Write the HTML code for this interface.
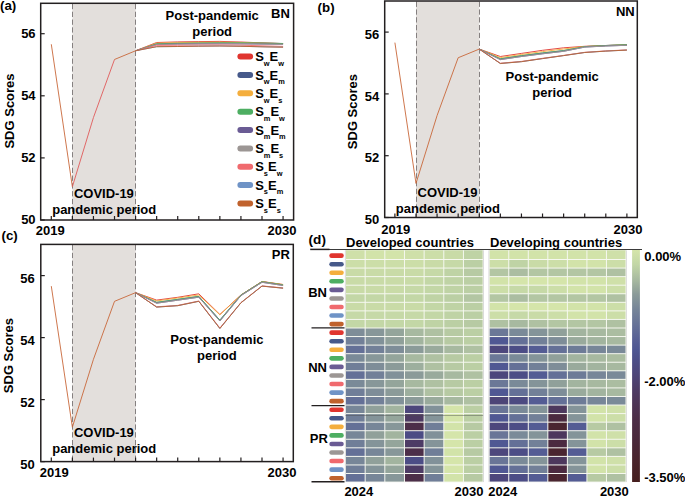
<!DOCTYPE html><html><head><meta charset="utf-8"><style>html,body{margin:0;padding:0;background:#fff;}svg{display:block;}</style></head><body><svg width="685" height="497" viewBox="0 0 685 497" font-family='"Liberation Sans", sans-serif' fill="#000">
<rect width="685" height="497" fill="#fff"/>
<rect x="72.37" y="3.30" width="63.21" height="216.70" fill="#e3dfdc"/>
<line x1="72.50" y1="3.90" x2="72.50" y2="220.00" stroke="#858080" stroke-width="1" stroke-dasharray="5.3,2.5"/>
<line x1="135.50" y1="3.90" x2="135.50" y2="220.00" stroke="#858080" stroke-width="1" stroke-dasharray="5.3,2.5"/>
<polyline points="135.58,50.78 156.65,42.50 177.72,41.90 198.79,41.60 219.86,41.40 240.93,42.00 262.00,42.90 283.07,43.60" fill="none" stroke="#e0352f" stroke-width="0.9" stroke-linejoin="miter"/>
<polyline points="135.58,50.78 156.65,43.80 177.72,43.30 198.79,43.00 219.86,42.80 240.93,42.80 262.00,43.10 283.07,43.50" fill="none" stroke="#46598a" stroke-width="0.9" stroke-linejoin="miter"/>
<polyline points="135.58,50.78 156.65,43.20 177.72,42.60 198.79,42.30 219.86,42.20 240.93,42.50 262.00,43.10 283.07,43.60" fill="none" stroke="#f4ae3d" stroke-width="0.9" stroke-linejoin="miter"/>
<polyline points="135.58,50.78 156.65,43.80 177.72,43.30 198.79,43.00 219.86,42.80 240.93,42.80 262.00,43.10 283.07,43.50" fill="none" stroke="#4dae62" stroke-width="0.9" stroke-linejoin="miter"/>
<polyline points="135.58,50.78 156.65,44.50 177.72,44.10 198.79,43.90 219.86,43.80 240.93,43.90 262.00,44.10 283.07,44.30" fill="none" stroke="#6a5b94" stroke-width="0.9" stroke-linejoin="miter"/>
<polyline points="135.58,50.78 156.65,44.50 177.72,44.10 198.79,43.90 219.86,43.80 240.93,43.90 262.00,44.10 283.07,44.30" fill="none" stroke="#9c9694" stroke-width="0.9" stroke-linejoin="miter"/>
<polyline points="135.58,50.78 156.65,45.40 177.72,45.30 198.79,45.10 219.86,45.00 240.93,45.20 262.00,45.80 283.07,46.40" fill="none" stroke="#f06a6e" stroke-width="0.9" stroke-linejoin="miter"/>
<polyline points="135.58,50.78 156.65,46.70 177.72,46.50 198.79,46.20 219.86,46.00 240.93,46.30 262.00,46.80 283.07,47.20" fill="none" stroke="#6f93c6" stroke-width="0.9" stroke-linejoin="miter"/>
<polyline points="135.58,50.78 156.65,46.70 177.72,46.50 198.79,46.20 219.86,46.00 240.93,46.30 262.00,46.80 283.07,47.20" fill="none" stroke="#c0622d" stroke-width="0.9" stroke-linejoin="miter"/>
<polyline points="51.30,44.26 72.37,186.78" fill="none" stroke="#c8683a" stroke-width="0.9"/>
<polyline points="72.37,186.78 93.44,117.54 114.51,59.47" fill="none" stroke="#e05a5a" stroke-width="0.9"/>
<polyline points="114.51,59.47 135.58,50.78" fill="none" stroke="#c8683a" stroke-width="0.9"/>
<rect x="40.70" y="3.30" width="252.90" height="216.70" fill="none" stroke="#231f20" stroke-width="1.5"/>
<line x1="51.30" y1="220.00" x2="51.30" y2="216.00" stroke="#231f20" stroke-width="1.2"/>
<line x1="72.37" y1="220.00" x2="72.37" y2="216.00" stroke="#231f20" stroke-width="1.2"/>
<line x1="93.44" y1="220.00" x2="93.44" y2="216.00" stroke="#231f20" stroke-width="1.2"/>
<line x1="114.51" y1="220.00" x2="114.51" y2="216.00" stroke="#231f20" stroke-width="1.2"/>
<line x1="135.58" y1="220.00" x2="135.58" y2="216.00" stroke="#231f20" stroke-width="1.2"/>
<line x1="156.65" y1="220.00" x2="156.65" y2="216.00" stroke="#231f20" stroke-width="1.2"/>
<line x1="177.72" y1="220.00" x2="177.72" y2="216.00" stroke="#231f20" stroke-width="1.2"/>
<line x1="198.79" y1="220.00" x2="198.79" y2="216.00" stroke="#231f20" stroke-width="1.2"/>
<line x1="219.86" y1="220.00" x2="219.86" y2="216.00" stroke="#231f20" stroke-width="1.2"/>
<line x1="240.93" y1="220.00" x2="240.93" y2="216.00" stroke="#231f20" stroke-width="1.2"/>
<line x1="262.00" y1="220.00" x2="262.00" y2="216.00" stroke="#231f20" stroke-width="1.2"/>
<line x1="283.07" y1="220.00" x2="283.07" y2="216.00" stroke="#231f20" stroke-width="1.2"/>
<line x1="40.70" y1="220.00" x2="44.70" y2="220.00" stroke="#231f20" stroke-width="1.2"/>
<text x="35.60" y="224.30" font-size="13" text-anchor="end" font-weight="bold" >50</text>
<line x1="40.70" y1="157.90" x2="44.70" y2="157.90" stroke="#231f20" stroke-width="1.2"/>
<text x="35.60" y="162.20" font-size="13" text-anchor="end" font-weight="bold" >52</text>
<line x1="40.70" y1="95.80" x2="44.70" y2="95.80" stroke="#231f20" stroke-width="1.2"/>
<text x="35.60" y="100.10" font-size="13" text-anchor="end" font-weight="bold" >54</text>
<line x1="40.70" y1="33.70" x2="44.70" y2="33.70" stroke="#231f20" stroke-width="1.2"/>
<text x="35.60" y="38.00" font-size="13" text-anchor="end" font-weight="bold" >56</text>
<text x="50.15" y="235.20" font-size="13" text-anchor="middle" font-weight="bold" >2019</text>
<text x="282.07" y="235.20" font-size="13" text-anchor="middle" font-weight="bold" >2030</text>
<text x="0" y="0" font-size="13" font-weight="bold" text-anchor="middle" transform="translate(14.00,111.00) rotate(-90)">SDG Scores</text>
<text x="103.88" y="197.50" font-size="13" text-anchor="middle" font-weight="bold" >COVID-19</text>
<text x="104.22" y="213.60" font-size="13" text-anchor="middle" font-weight="bold" >pandemic period</text>
<text x="289.80" y="17.90" font-size="13" text-anchor="end" font-weight="bold" >BN</text>
<rect x="415.99" y="1.00" width="63.27" height="216.50" fill="#e3dfdc"/>
<line x1="416.50" y1="1.60" x2="416.50" y2="217.50" stroke="#858080" stroke-width="1" stroke-dasharray="5.3,2.5"/>
<line x1="479.50" y1="1.60" x2="479.50" y2="217.50" stroke="#858080" stroke-width="1" stroke-dasharray="5.3,2.5"/>
<polyline points="479.26,49.09 500.35,56.50 521.44,53.40 542.53,50.30 563.62,47.80 584.71,46.30 605.80,45.50 626.89,44.90" fill="none" stroke="#e0352f" stroke-width="0.9" stroke-linejoin="miter"/>
<polyline points="479.26,49.09 500.35,58.80 521.44,55.70 542.53,53.00 563.62,50.60 584.71,46.60 605.80,45.50 626.89,44.70" fill="none" stroke="#46598a" stroke-width="0.9" stroke-linejoin="miter"/>
<polyline points="479.26,49.09 500.35,57.60 521.44,54.50 542.53,51.60 563.62,49.00 584.71,46.50 605.80,45.60 626.89,44.90" fill="none" stroke="#f4ae3d" stroke-width="0.9" stroke-linejoin="miter"/>
<polyline points="479.26,49.09 500.35,58.80 521.44,55.70 542.53,53.00 563.62,50.60 584.71,46.60 605.80,45.50 626.89,44.70" fill="none" stroke="#4dae62" stroke-width="0.9" stroke-linejoin="miter"/>
<polyline points="479.26,49.09 500.35,59.60 521.44,56.50 542.53,53.80 563.62,51.30 584.71,47.10 605.80,46.00 626.89,45.30" fill="none" stroke="#6a5b94" stroke-width="0.9" stroke-linejoin="miter"/>
<polyline points="479.26,49.09 500.35,59.60 521.44,56.50 542.53,53.80 563.62,51.30 584.71,47.10 605.80,46.00 626.89,45.30" fill="none" stroke="#9c9694" stroke-width="0.9" stroke-linejoin="miter"/>
<polyline points="479.26,49.09 500.35,63.20 521.44,61.40 542.53,58.30 563.62,55.40 584.71,52.30 605.80,50.90 626.89,49.90" fill="none" stroke="#f06a6e" stroke-width="0.9" stroke-linejoin="miter"/>
<polyline points="479.26,49.09 500.35,63.50 521.44,61.70 542.53,58.60 563.62,55.60 584.71,52.50 605.80,51.10 626.89,50.10" fill="none" stroke="#6f93c6" stroke-width="0.9" stroke-linejoin="miter"/>
<polyline points="479.26,49.09 500.35,63.50 521.44,61.70 542.53,58.60 563.62,55.60 584.71,52.50 605.80,51.10 626.89,50.10" fill="none" stroke="#c0622d" stroke-width="0.9" stroke-linejoin="miter"/>
<polyline points="394.90,42.61 415.99,183.44" fill="none" stroke="#c8683a" stroke-width="0.9"/>
<polyline points="415.99,183.44 437.08,115.53 458.17,57.75" fill="none" stroke="#c8683a" stroke-width="0.9"/>
<polyline points="458.17,57.75 479.26,49.09" fill="none" stroke="#c8683a" stroke-width="0.9"/>
<rect x="384.70" y="1.00" width="252.60" height="216.50" fill="none" stroke="#231f20" stroke-width="1.5"/>
<line x1="394.90" y1="217.50" x2="394.90" y2="213.50" stroke="#231f20" stroke-width="1.2"/>
<line x1="415.99" y1="217.50" x2="415.99" y2="213.50" stroke="#231f20" stroke-width="1.2"/>
<line x1="437.08" y1="217.50" x2="437.08" y2="213.50" stroke="#231f20" stroke-width="1.2"/>
<line x1="458.17" y1="217.50" x2="458.17" y2="213.50" stroke="#231f20" stroke-width="1.2"/>
<line x1="479.26" y1="217.50" x2="479.26" y2="213.50" stroke="#231f20" stroke-width="1.2"/>
<line x1="500.35" y1="217.50" x2="500.35" y2="213.50" stroke="#231f20" stroke-width="1.2"/>
<line x1="521.44" y1="217.50" x2="521.44" y2="213.50" stroke="#231f20" stroke-width="1.2"/>
<line x1="542.53" y1="217.50" x2="542.53" y2="213.50" stroke="#231f20" stroke-width="1.2"/>
<line x1="563.62" y1="217.50" x2="563.62" y2="213.50" stroke="#231f20" stroke-width="1.2"/>
<line x1="584.71" y1="217.50" x2="584.71" y2="213.50" stroke="#231f20" stroke-width="1.2"/>
<line x1="605.80" y1="217.50" x2="605.80" y2="213.50" stroke="#231f20" stroke-width="1.2"/>
<line x1="626.89" y1="217.50" x2="626.89" y2="213.50" stroke="#231f20" stroke-width="1.2"/>
<line x1="384.70" y1="217.50" x2="388.70" y2="217.50" stroke="#231f20" stroke-width="1.2"/>
<text x="379.30" y="224.20" font-size="13" text-anchor="end" font-weight="bold" >50</text>
<line x1="384.70" y1="155.70" x2="388.70" y2="155.70" stroke="#231f20" stroke-width="1.2"/>
<text x="379.30" y="162.40" font-size="13" text-anchor="end" font-weight="bold" >52</text>
<line x1="384.70" y1="93.90" x2="388.70" y2="93.90" stroke="#231f20" stroke-width="1.2"/>
<text x="379.30" y="100.60" font-size="13" text-anchor="end" font-weight="bold" >54</text>
<line x1="384.70" y1="32.10" x2="388.70" y2="32.10" stroke="#231f20" stroke-width="1.2"/>
<text x="379.30" y="38.80" font-size="13" text-anchor="end" font-weight="bold" >56</text>
<text x="395.65" y="233.60" font-size="13" text-anchor="middle" font-weight="bold" >2019</text>
<text x="627.99" y="233.60" font-size="13" text-anchor="middle" font-weight="bold" >2030</text>
<text x="0" y="0" font-size="13" font-weight="bold" text-anchor="middle" transform="translate(356.50,111.60) rotate(-90)">SDG Scores</text>
<text x="447.52" y="197.30" font-size="13" text-anchor="middle" font-weight="bold" >COVID-19</text>
<text x="447.88" y="213.30" font-size="13" text-anchor="middle" font-weight="bold" >pandemic period</text>
<text x="634.70" y="15.60" font-size="13" text-anchor="end" font-weight="bold" >NN</text>
<rect x="72.37" y="244.40" width="63.21" height="217.20" fill="#e3dfdc"/>
<line x1="72.50" y1="245.00" x2="72.50" y2="461.60" stroke="#858080" stroke-width="1" stroke-dasharray="5.3,2.5"/>
<line x1="135.50" y1="245.00" x2="135.50" y2="461.60" stroke="#858080" stroke-width="1" stroke-dasharray="5.3,2.5"/>
<polyline points="135.58,292.65 156.65,300.10 177.72,297.30 198.79,293.80 219.86,314.50 240.93,295.00 262.00,281.50 283.07,284.50" fill="none" stroke="#e0352f" stroke-width="0.9" stroke-linejoin="miter"/>
<polyline points="135.58,292.65 156.65,302.40 177.72,299.40 198.79,296.40 219.86,320.20 240.93,295.10 262.00,281.70 283.07,284.90" fill="none" stroke="#46598a" stroke-width="0.9" stroke-linejoin="miter"/>
<polyline points="135.58,292.65 156.65,301.00 177.72,298.00 198.79,295.00 219.86,314.80 240.93,295.10 262.00,281.60 283.07,284.60" fill="none" stroke="#f4ae3d" stroke-width="0.9" stroke-linejoin="miter"/>
<polyline points="135.58,292.65 156.65,302.40 177.72,299.40 198.79,296.40 219.86,320.20 240.93,295.10 262.00,281.70 283.07,284.90" fill="none" stroke="#4dae62" stroke-width="0.9" stroke-linejoin="miter"/>
<polyline points="135.58,292.65 156.65,303.20 177.72,300.20 198.79,297.20 219.86,321.00 240.93,295.60 262.00,282.30 283.07,285.50" fill="none" stroke="#6a5b94" stroke-width="0.9" stroke-linejoin="miter"/>
<polyline points="135.58,292.65 156.65,303.20 177.72,300.20 198.79,297.20 219.86,321.00 240.93,295.60 262.00,282.30 283.07,285.50" fill="none" stroke="#9c9694" stroke-width="0.9" stroke-linejoin="miter"/>
<polyline points="135.58,292.65 156.65,306.80 177.72,305.40 198.79,301.00 219.86,328.00 240.93,302.60 262.00,285.90 283.07,287.90" fill="none" stroke="#f06a6e" stroke-width="0.9" stroke-linejoin="miter"/>
<polyline points="135.58,292.65 156.65,307.10 177.72,305.70 198.79,301.30 219.86,328.50 240.93,302.80 262.00,286.10 283.07,288.20" fill="none" stroke="#6f93c6" stroke-width="0.9" stroke-linejoin="miter"/>
<polyline points="135.58,292.65 156.65,307.10 177.72,305.70 198.79,301.30 219.86,328.50 240.93,302.80 262.00,286.10 283.07,288.20" fill="none" stroke="#c0622d" stroke-width="0.9" stroke-linejoin="miter"/>
<polyline points="51.30,286.14 72.37,427.23" fill="none" stroke="#c8683a" stroke-width="0.9"/>
<polyline points="72.37,427.23 93.44,359.30 114.51,301.33" fill="none" stroke="#c8683a" stroke-width="0.9"/>
<polyline points="114.51,301.33 135.58,292.65" fill="none" stroke="#c8683a" stroke-width="0.9"/>
<rect x="40.80" y="244.40" width="252.50" height="217.20" fill="none" stroke="#231f20" stroke-width="1.5"/>
<line x1="51.30" y1="461.60" x2="51.30" y2="457.60" stroke="#231f20" stroke-width="1.2"/>
<line x1="72.37" y1="461.60" x2="72.37" y2="457.60" stroke="#231f20" stroke-width="1.2"/>
<line x1="93.44" y1="461.60" x2="93.44" y2="457.60" stroke="#231f20" stroke-width="1.2"/>
<line x1="114.51" y1="461.60" x2="114.51" y2="457.60" stroke="#231f20" stroke-width="1.2"/>
<line x1="135.58" y1="461.60" x2="135.58" y2="457.60" stroke="#231f20" stroke-width="1.2"/>
<line x1="156.65" y1="461.60" x2="156.65" y2="457.60" stroke="#231f20" stroke-width="1.2"/>
<line x1="177.72" y1="461.60" x2="177.72" y2="457.60" stroke="#231f20" stroke-width="1.2"/>
<line x1="198.79" y1="461.60" x2="198.79" y2="457.60" stroke="#231f20" stroke-width="1.2"/>
<line x1="219.86" y1="461.60" x2="219.86" y2="457.60" stroke="#231f20" stroke-width="1.2"/>
<line x1="240.93" y1="461.60" x2="240.93" y2="457.60" stroke="#231f20" stroke-width="1.2"/>
<line x1="262.00" y1="461.60" x2="262.00" y2="457.60" stroke="#231f20" stroke-width="1.2"/>
<line x1="283.07" y1="461.60" x2="283.07" y2="457.60" stroke="#231f20" stroke-width="1.2"/>
<line x1="40.80" y1="461.60" x2="44.80" y2="461.60" stroke="#231f20" stroke-width="1.2"/>
<text x="34.80" y="469.10" font-size="13" text-anchor="end" font-weight="bold" >50</text>
<line x1="40.80" y1="399.60" x2="44.80" y2="399.60" stroke="#231f20" stroke-width="1.2"/>
<text x="34.80" y="407.10" font-size="13" text-anchor="end" font-weight="bold" >52</text>
<line x1="40.80" y1="337.60" x2="44.80" y2="337.60" stroke="#231f20" stroke-width="1.2"/>
<text x="34.80" y="345.10" font-size="13" text-anchor="end" font-weight="bold" >54</text>
<line x1="40.80" y1="275.60" x2="44.80" y2="275.60" stroke="#231f20" stroke-width="1.2"/>
<text x="34.80" y="283.10" font-size="13" text-anchor="end" font-weight="bold" >56</text>
<text x="54.25" y="476.90" font-size="13" text-anchor="middle" font-weight="bold" >2019</text>
<text x="282.00" y="476.90" font-size="13" text-anchor="middle" font-weight="bold" >2030</text>
<text x="0" y="0" font-size="13" font-weight="bold" text-anchor="middle" transform="translate(12.90,355.60) rotate(-90)">SDG Scores</text>
<text x="103.88" y="437.00" font-size="13" text-anchor="middle" font-weight="bold" >COVID-19</text>
<text x="104.22" y="453.30" font-size="13" text-anchor="middle" font-weight="bold" >pandemic period</text>
<text x="289.80" y="259.00" font-size="13" text-anchor="end" font-weight="bold" >PR</text>
<text x="0.00" y="9.80" font-size="13.3" text-anchor="start" font-weight="bold" >(a)</text>
<text x="317.60" y="12.30" font-size="13.3" text-anchor="start" font-weight="bold" >(b)</text>
<text x="1.50" y="239.50" font-size="13.3" text-anchor="start" font-weight="bold" >(c)</text>
<text x="308.60" y="243.70" font-size="13.6" text-anchor="start" font-weight="bold" >(d)</text>
<text x="212.20" y="19.80" font-size="13" text-anchor="middle" font-weight="bold" >Post-pandemic</text>
<text x="212.20" y="36.10" font-size="13" text-anchor="middle" font-weight="bold" >period</text>
<text x="552.20" y="80.50" font-size="13" text-anchor="middle" font-weight="bold" >Post-pandemic</text>
<text x="552.20" y="96.80" font-size="13" text-anchor="middle" font-weight="bold" >period</text>
<text x="216.90" y="343.80" font-size="13" text-anchor="middle" font-weight="bold" >Post-pandemic</text>
<text x="216.90" y="360.10" font-size="13" text-anchor="middle" font-weight="bold" >period</text>
<rect x="237.4" y="53.60" width="15.7" height="6" rx="3" fill="#e0352f"/>
<text x="255.2" y="61.30" font-size="13" font-weight="bold">S<tspan font-size="7.4" dy="4.6">w</tspan><tspan font-size="13" dy="-4.6">E</tspan><tspan font-size="7.4" dy="4.6">w</tspan></text>
<rect x="237.4" y="71.96" width="15.7" height="6" rx="3" fill="#46598a"/>
<text x="255.2" y="79.66" font-size="13" font-weight="bold">S<tspan font-size="7.4" dy="4.6">w</tspan><tspan font-size="13" dy="-4.6">E</tspan><tspan font-size="7.4" dy="4.6">m</tspan></text>
<rect x="237.4" y="90.32" width="15.7" height="6" rx="3" fill="#f4ae3d"/>
<text x="255.2" y="98.02" font-size="13" font-weight="bold">S<tspan font-size="7.4" dy="4.6">w</tspan><tspan font-size="13" dy="-4.6">E</tspan><tspan font-size="7.4" dy="4.6">s</tspan></text>
<rect x="237.4" y="108.68" width="15.7" height="6" rx="3" fill="#4dae62"/>
<text x="255.2" y="116.38" font-size="13" font-weight="bold">S<tspan font-size="7.4" dy="4.6">m</tspan><tspan font-size="13" dy="-4.6">E</tspan><tspan font-size="7.4" dy="4.6">w</tspan></text>
<rect x="237.4" y="127.04" width="15.7" height="6" rx="3" fill="#6a5b94"/>
<text x="255.2" y="134.74" font-size="13" font-weight="bold">S<tspan font-size="7.4" dy="4.6">m</tspan><tspan font-size="13" dy="-4.6">E</tspan><tspan font-size="7.4" dy="4.6">m</tspan></text>
<rect x="237.4" y="145.40" width="15.7" height="6" rx="3" fill="#9c9694"/>
<text x="255.2" y="153.10" font-size="13" font-weight="bold">S<tspan font-size="7.4" dy="4.6">m</tspan><tspan font-size="13" dy="-4.6">E</tspan><tspan font-size="7.4" dy="4.6">s</tspan></text>
<rect x="237.4" y="163.76" width="15.7" height="6" rx="3" fill="#f06a6e"/>
<text x="255.2" y="171.46" font-size="13" font-weight="bold">S<tspan font-size="7.4" dy="4.6">s</tspan><tspan font-size="13" dy="-4.6">E</tspan><tspan font-size="7.4" dy="4.6">w</tspan></text>
<rect x="237.4" y="182.12" width="15.7" height="6" rx="3" fill="#6f93c6"/>
<text x="255.2" y="189.82" font-size="13" font-weight="bold">S<tspan font-size="7.4" dy="4.6">s</tspan><tspan font-size="13" dy="-4.6">E</tspan><tspan font-size="7.4" dy="4.6">m</tspan></text>
<rect x="237.4" y="200.48" width="15.7" height="6" rx="3" fill="#c0622d"/>
<text x="255.2" y="208.18" font-size="13" font-weight="bold">S<tspan font-size="7.4" dy="4.6">s</tspan><tspan font-size="13" dy="-4.6">E</tspan><tspan font-size="7.4" dy="4.6">s</tspan></text>
<rect x="344.90" y="250.3" width="138.80" height="231.77" fill="#c8c8c8"/>
<rect x="345.50" y="250.3" width="137.60" height="231.77" fill="#f6f8f0"/>
<rect x="346.00" y="250.30" width="18.66" height="8.71" fill="#cfe0a9"/>
<rect x="365.66" y="250.30" width="18.66" height="8.71" fill="#d2e3a9"/>
<rect x="385.31" y="250.30" width="18.66" height="8.71" fill="#d3e4aa"/>
<rect x="404.97" y="250.30" width="18.66" height="8.71" fill="#cfe0a9"/>
<rect x="424.63" y="250.30" width="18.66" height="8.71" fill="#ccdea8"/>
<rect x="444.29" y="250.30" width="18.66" height="8.71" fill="#c9dba7"/>
<rect x="463.94" y="250.30" width="18.66" height="8.71" fill="#bfd3a5"/>
<rect x="346.00" y="260.01" width="18.66" height="7.56" fill="#ccdea8"/>
<rect x="365.66" y="260.01" width="18.66" height="7.56" fill="#ccdea8"/>
<rect x="385.31" y="260.01" width="18.66" height="7.56" fill="#ccdea8"/>
<rect x="404.97" y="260.01" width="18.66" height="7.56" fill="#ccdea8"/>
<rect x="424.63" y="260.01" width="18.66" height="7.56" fill="#c9dba7"/>
<rect x="444.29" y="260.01" width="18.66" height="7.56" fill="#c6d9a7"/>
<rect x="463.94" y="260.01" width="18.66" height="7.56" fill="#bbcfa4"/>
<rect x="346.00" y="268.57" width="18.66" height="7.56" fill="#c9dba7"/>
<rect x="365.66" y="268.57" width="18.66" height="7.56" fill="#c9dba7"/>
<rect x="385.31" y="268.57" width="18.66" height="7.56" fill="#c9dba7"/>
<rect x="404.97" y="268.57" width="18.66" height="7.56" fill="#c9dba7"/>
<rect x="424.63" y="268.57" width="18.66" height="7.56" fill="#c6d9a7"/>
<rect x="444.29" y="268.57" width="18.66" height="7.56" fill="#bfd3a5"/>
<rect x="463.94" y="268.57" width="18.66" height="7.56" fill="#b7caa3"/>
<rect x="346.00" y="277.13" width="18.66" height="7.56" fill="#c9dba7"/>
<rect x="365.66" y="277.13" width="18.66" height="7.56" fill="#c9dba7"/>
<rect x="385.31" y="277.13" width="18.66" height="7.56" fill="#c9dba7"/>
<rect x="404.97" y="277.13" width="18.66" height="7.56" fill="#c9dba7"/>
<rect x="424.63" y="277.13" width="18.66" height="7.56" fill="#c3d7a6"/>
<rect x="444.29" y="277.13" width="18.66" height="7.56" fill="#bfd3a5"/>
<rect x="463.94" y="277.13" width="18.66" height="7.56" fill="#bbcfa4"/>
<rect x="346.00" y="285.69" width="18.66" height="7.56" fill="#c9dba7"/>
<rect x="365.66" y="285.69" width="18.66" height="7.56" fill="#c9dba7"/>
<rect x="385.31" y="285.69" width="18.66" height="7.56" fill="#c9dba7"/>
<rect x="404.97" y="285.69" width="18.66" height="7.56" fill="#c6d9a7"/>
<rect x="424.63" y="285.69" width="18.66" height="7.56" fill="#c3d7a6"/>
<rect x="444.29" y="285.69" width="18.66" height="7.56" fill="#bfd3a5"/>
<rect x="463.94" y="285.69" width="18.66" height="7.56" fill="#bbcfa4"/>
<rect x="346.00" y="294.25" width="18.66" height="7.56" fill="#c3d7a6"/>
<rect x="365.66" y="294.25" width="18.66" height="7.56" fill="#c3d7a6"/>
<rect x="385.31" y="294.25" width="18.66" height="7.56" fill="#c3d7a6"/>
<rect x="404.97" y="294.25" width="18.66" height="7.56" fill="#c3d7a6"/>
<rect x="424.63" y="294.25" width="18.66" height="7.56" fill="#bfd3a5"/>
<rect x="444.29" y="294.25" width="18.66" height="7.56" fill="#bbcfa4"/>
<rect x="463.94" y="294.25" width="18.66" height="7.56" fill="#b3c6a3"/>
<rect x="346.00" y="302.81" width="18.66" height="7.56" fill="#c9dba7"/>
<rect x="365.66" y="302.81" width="18.66" height="7.56" fill="#c9dba7"/>
<rect x="385.31" y="302.81" width="18.66" height="7.56" fill="#c9dba7"/>
<rect x="404.97" y="302.81" width="18.66" height="7.56" fill="#c9dba7"/>
<rect x="424.63" y="302.81" width="18.66" height="7.56" fill="#c3d7a6"/>
<rect x="444.29" y="302.81" width="18.66" height="7.56" fill="#bfd3a5"/>
<rect x="463.94" y="302.81" width="18.66" height="7.56" fill="#bbcfa4"/>
<rect x="346.00" y="311.37" width="18.66" height="7.56" fill="#c6d9a7"/>
<rect x="365.66" y="311.37" width="18.66" height="7.56" fill="#c6d9a7"/>
<rect x="385.31" y="311.37" width="18.66" height="7.56" fill="#c6d9a7"/>
<rect x="404.97" y="311.37" width="18.66" height="7.56" fill="#c6d9a7"/>
<rect x="424.63" y="311.37" width="18.66" height="7.56" fill="#c3d7a6"/>
<rect x="444.29" y="311.37" width="18.66" height="7.56" fill="#bfd3a5"/>
<rect x="463.94" y="311.37" width="18.66" height="7.56" fill="#bbcfa4"/>
<rect x="346.00" y="319.93" width="18.66" height="7.56" fill="#c3d7a6"/>
<rect x="365.66" y="319.93" width="18.66" height="7.56" fill="#c3d7a6"/>
<rect x="385.31" y="319.93" width="18.66" height="7.56" fill="#c3d7a6"/>
<rect x="404.97" y="319.93" width="18.66" height="7.56" fill="#c3d7a6"/>
<rect x="424.63" y="319.93" width="18.66" height="7.56" fill="#bfd3a5"/>
<rect x="444.29" y="319.93" width="18.66" height="7.56" fill="#bbcfa4"/>
<rect x="463.94" y="319.93" width="18.66" height="7.56" fill="#b7caa3"/>
<rect x="346.00" y="328.49" width="18.66" height="7.56" fill="#7e8d98"/>
<rect x="365.66" y="328.49" width="18.66" height="7.56" fill="#879799"/>
<rect x="385.31" y="328.49" width="18.66" height="7.56" fill="#94a59b"/>
<rect x="404.97" y="328.49" width="18.66" height="7.56" fill="#a7b9a0"/>
<rect x="424.63" y="328.49" width="18.66" height="7.56" fill="#afc1a2"/>
<rect x="444.29" y="328.49" width="18.66" height="7.56" fill="#b7caa3"/>
<rect x="463.94" y="328.49" width="18.66" height="7.56" fill="#bbcfa4"/>
<rect x="346.00" y="337.05" width="18.66" height="7.56" fill="#728098"/>
<rect x="365.66" y="337.05" width="18.66" height="7.56" fill="#819199"/>
<rect x="385.31" y="337.05" width="18.66" height="7.56" fill="#90a09a"/>
<rect x="404.97" y="337.05" width="18.66" height="7.56" fill="#a2b49f"/>
<rect x="424.63" y="337.05" width="18.66" height="7.56" fill="#afc1a2"/>
<rect x="444.29" y="337.05" width="18.66" height="7.56" fill="#b7caa3"/>
<rect x="463.94" y="337.05" width="18.66" height="7.56" fill="#bbcfa4"/>
<rect x="346.00" y="345.61" width="18.66" height="7.56" fill="#647097"/>
<rect x="365.66" y="345.61" width="18.66" height="7.56" fill="#728098"/>
<rect x="385.31" y="345.61" width="18.66" height="7.56" fill="#7e8d98"/>
<rect x="404.97" y="345.61" width="18.66" height="7.56" fill="#8b9b99"/>
<rect x="424.63" y="345.61" width="18.66" height="7.56" fill="#99aa9c"/>
<rect x="444.29" y="345.61" width="18.66" height="7.56" fill="#a7b9a0"/>
<rect x="463.94" y="345.61" width="18.66" height="7.56" fill="#afc1a2"/>
<rect x="346.00" y="354.17" width="18.66" height="7.56" fill="#7a8a98"/>
<rect x="365.66" y="354.17" width="18.66" height="7.56" fill="#879799"/>
<rect x="385.31" y="354.17" width="18.66" height="7.56" fill="#94a59b"/>
<rect x="404.97" y="354.17" width="18.66" height="7.56" fill="#a7b9a0"/>
<rect x="424.63" y="354.17" width="18.66" height="7.56" fill="#afc1a2"/>
<rect x="444.29" y="354.17" width="18.66" height="7.56" fill="#b7caa3"/>
<rect x="463.94" y="354.17" width="18.66" height="7.56" fill="#bbcfa4"/>
<rect x="346.00" y="362.73" width="18.66" height="7.56" fill="#707e98"/>
<rect x="365.66" y="362.73" width="18.66" height="7.56" fill="#7e8d98"/>
<rect x="385.31" y="362.73" width="18.66" height="7.56" fill="#8b9b99"/>
<rect x="404.97" y="362.73" width="18.66" height="7.56" fill="#9daf9e"/>
<rect x="424.63" y="362.73" width="18.66" height="7.56" fill="#afc1a2"/>
<rect x="444.29" y="362.73" width="18.66" height="7.56" fill="#b7caa3"/>
<rect x="463.94" y="362.73" width="18.66" height="7.56" fill="#bbcfa4"/>
<rect x="346.00" y="371.29" width="18.66" height="7.56" fill="#647097"/>
<rect x="365.66" y="371.29" width="18.66" height="7.56" fill="#728098"/>
<rect x="385.31" y="371.29" width="18.66" height="7.56" fill="#819199"/>
<rect x="404.97" y="371.29" width="18.66" height="7.56" fill="#8b9b99"/>
<rect x="424.63" y="371.29" width="18.66" height="7.56" fill="#99aa9c"/>
<rect x="444.29" y="371.29" width="18.66" height="7.56" fill="#a7b9a0"/>
<rect x="463.94" y="371.29" width="18.66" height="7.56" fill="#afc1a2"/>
<rect x="346.00" y="379.85" width="18.66" height="7.56" fill="#7a8a98"/>
<rect x="365.66" y="379.85" width="18.66" height="7.56" fill="#879799"/>
<rect x="385.31" y="379.85" width="18.66" height="7.56" fill="#94a59b"/>
<rect x="404.97" y="379.85" width="18.66" height="7.56" fill="#a7b9a0"/>
<rect x="424.63" y="379.85" width="18.66" height="7.56" fill="#afc1a2"/>
<rect x="444.29" y="379.85" width="18.66" height="7.56" fill="#b7caa3"/>
<rect x="463.94" y="379.85" width="18.66" height="7.56" fill="#bbcfa4"/>
<rect x="346.00" y="388.41" width="18.66" height="7.56" fill="#707e98"/>
<rect x="365.66" y="388.41" width="18.66" height="7.56" fill="#7e8d98"/>
<rect x="385.31" y="388.41" width="18.66" height="7.56" fill="#8b9b99"/>
<rect x="404.97" y="388.41" width="18.66" height="7.56" fill="#9daf9e"/>
<rect x="424.63" y="388.41" width="18.66" height="7.56" fill="#afc1a2"/>
<rect x="444.29" y="388.41" width="18.66" height="7.56" fill="#b7caa3"/>
<rect x="463.94" y="388.41" width="18.66" height="7.56" fill="#bbcfa4"/>
<rect x="346.00" y="396.97" width="18.66" height="7.56" fill="#647097"/>
<rect x="365.66" y="396.97" width="18.66" height="7.56" fill="#728098"/>
<rect x="385.31" y="396.97" width="18.66" height="7.56" fill="#819199"/>
<rect x="404.97" y="396.97" width="18.66" height="7.56" fill="#8b9b99"/>
<rect x="424.63" y="396.97" width="18.66" height="7.56" fill="#99aa9c"/>
<rect x="444.29" y="396.97" width="18.66" height="7.56" fill="#a7b9a0"/>
<rect x="463.94" y="396.97" width="18.66" height="7.56" fill="#afc1a2"/>
<rect x="346.00" y="405.53" width="18.66" height="7.56" fill="#778698"/>
<rect x="365.66" y="405.53" width="18.66" height="7.56" fill="#90a09a"/>
<rect x="385.31" y="405.53" width="18.66" height="7.56" fill="#a2b49f"/>
<rect x="404.97" y="405.53" width="18.66" height="7.56" fill="#4d477c"/>
<rect x="424.63" y="405.53" width="18.66" height="7.56" fill="#819199"/>
<rect x="444.29" y="405.53" width="18.66" height="7.56" fill="#d5e5aa"/>
<rect x="463.94" y="405.53" width="18.66" height="7.56" fill="#bbcfa4"/>
<rect x="346.00" y="414.09" width="18.66" height="7.56" fill="#707e98"/>
<rect x="365.66" y="414.09" width="18.66" height="7.56" fill="#849499"/>
<rect x="385.31" y="414.09" width="18.66" height="7.56" fill="#94a59b"/>
<rect x="404.97" y="414.09" width="18.66" height="7.56" fill="#4d3a62"/>
<rect x="424.63" y="414.09" width="18.66" height="7.56" fill="#849499"/>
<rect x="444.29" y="414.09" width="18.66" height="7.56" fill="#d5e5aa"/>
<rect x="463.94" y="414.09" width="18.66" height="7.56" fill="#bbcfa4"/>
<rect x="346.00" y="422.65" width="18.66" height="7.56" fill="#647097"/>
<rect x="365.66" y="422.65" width="18.66" height="7.56" fill="#778698"/>
<rect x="385.31" y="422.65" width="18.66" height="7.56" fill="#879799"/>
<rect x="404.97" y="422.65" width="18.66" height="7.56" fill="#4c2e49"/>
<rect x="424.63" y="422.65" width="18.66" height="7.56" fill="#707e98"/>
<rect x="444.29" y="422.65" width="18.66" height="7.56" fill="#d2e3a9"/>
<rect x="463.94" y="422.65" width="18.66" height="7.56" fill="#b7caa3"/>
<rect x="346.00" y="431.21" width="18.66" height="7.56" fill="#778698"/>
<rect x="365.66" y="431.21" width="18.66" height="7.56" fill="#90a09a"/>
<rect x="385.31" y="431.21" width="18.66" height="7.56" fill="#a2b49f"/>
<rect x="404.97" y="431.21" width="18.66" height="7.56" fill="#4c4c84"/>
<rect x="424.63" y="431.21" width="18.66" height="7.56" fill="#819199"/>
<rect x="444.29" y="431.21" width="18.66" height="7.56" fill="#d5e5aa"/>
<rect x="463.94" y="431.21" width="18.66" height="7.56" fill="#bbcfa4"/>
<rect x="346.00" y="439.77" width="18.66" height="7.56" fill="#707e98"/>
<rect x="365.66" y="439.77" width="18.66" height="7.56" fill="#849499"/>
<rect x="385.31" y="439.77" width="18.66" height="7.56" fill="#94a59b"/>
<rect x="404.97" y="439.77" width="18.66" height="7.56" fill="#4d3b65"/>
<rect x="424.63" y="439.77" width="18.66" height="7.56" fill="#849499"/>
<rect x="444.29" y="439.77" width="18.66" height="7.56" fill="#d5e5aa"/>
<rect x="463.94" y="439.77" width="18.66" height="7.56" fill="#bbcfa4"/>
<rect x="346.00" y="448.33" width="18.66" height="7.56" fill="#647097"/>
<rect x="365.66" y="448.33" width="18.66" height="7.56" fill="#778698"/>
<rect x="385.31" y="448.33" width="18.66" height="7.56" fill="#879799"/>
<rect x="404.97" y="448.33" width="18.66" height="7.56" fill="#4c2e49"/>
<rect x="424.63" y="448.33" width="18.66" height="7.56" fill="#707e98"/>
<rect x="444.29" y="448.33" width="18.66" height="7.56" fill="#d2e3a9"/>
<rect x="463.94" y="448.33" width="18.66" height="7.56" fill="#b7caa3"/>
<rect x="346.00" y="456.89" width="18.66" height="7.56" fill="#778698"/>
<rect x="365.66" y="456.89" width="18.66" height="7.56" fill="#90a09a"/>
<rect x="385.31" y="456.89" width="18.66" height="7.56" fill="#a2b49f"/>
<rect x="404.97" y="456.89" width="18.66" height="7.56" fill="#4c4d86"/>
<rect x="424.63" y="456.89" width="18.66" height="7.56" fill="#819199"/>
<rect x="444.29" y="456.89" width="18.66" height="7.56" fill="#d5e5aa"/>
<rect x="463.94" y="456.89" width="18.66" height="7.56" fill="#bbcfa4"/>
<rect x="346.00" y="465.45" width="18.66" height="7.56" fill="#707e98"/>
<rect x="365.66" y="465.45" width="18.66" height="7.56" fill="#849499"/>
<rect x="385.31" y="465.45" width="18.66" height="7.56" fill="#94a59b"/>
<rect x="404.97" y="465.45" width="18.66" height="7.56" fill="#4d3b65"/>
<rect x="424.63" y="465.45" width="18.66" height="7.56" fill="#849499"/>
<rect x="444.29" y="465.45" width="18.66" height="7.56" fill="#d5e5aa"/>
<rect x="463.94" y="465.45" width="18.66" height="7.56" fill="#bbcfa4"/>
<rect x="346.00" y="474.01" width="18.66" height="7.56" fill="#647097"/>
<rect x="365.66" y="474.01" width="18.66" height="7.56" fill="#778698"/>
<rect x="385.31" y="474.01" width="18.66" height="7.56" fill="#879799"/>
<rect x="404.97" y="474.01" width="18.66" height="7.56" fill="#4c2e49"/>
<rect x="424.63" y="474.01" width="18.66" height="7.56" fill="#707e98"/>
<rect x="444.29" y="474.01" width="18.66" height="7.56" fill="#d2e3a9"/>
<rect x="463.94" y="474.01" width="18.66" height="7.56" fill="#b7caa3"/>
<rect x="488.60" y="250.3" width="138.00" height="231.77" fill="#c8c8c8"/>
<rect x="489.20" y="250.3" width="136.80" height="231.77" fill="#f6f8f0"/>
<rect x="489.70" y="250.30" width="18.54" height="8.71" fill="#d2e3a9"/>
<rect x="509.24" y="250.30" width="18.54" height="8.71" fill="#d2e3a9"/>
<rect x="528.79" y="250.30" width="18.54" height="8.71" fill="#d2e3a9"/>
<rect x="548.33" y="250.30" width="18.54" height="8.71" fill="#d2e3a9"/>
<rect x="567.87" y="250.30" width="18.54" height="8.71" fill="#d2e3a9"/>
<rect x="587.41" y="250.30" width="18.54" height="8.71" fill="#d2e3a9"/>
<rect x="606.96" y="250.30" width="18.54" height="8.71" fill="#cfe0a9"/>
<rect x="489.70" y="260.01" width="18.54" height="7.56" fill="#ccdea8"/>
<rect x="509.24" y="260.01" width="18.54" height="7.56" fill="#bfd3a5"/>
<rect x="528.79" y="260.01" width="18.54" height="7.56" fill="#c9dba7"/>
<rect x="548.33" y="260.01" width="18.54" height="7.56" fill="#ccdea8"/>
<rect x="567.87" y="260.01" width="18.54" height="7.56" fill="#d2e3a9"/>
<rect x="587.41" y="260.01" width="18.54" height="7.56" fill="#d2e3a9"/>
<rect x="606.96" y="260.01" width="18.54" height="7.56" fill="#ccdea8"/>
<rect x="489.70" y="268.57" width="18.54" height="7.56" fill="#b3c6a3"/>
<rect x="509.24" y="268.57" width="18.54" height="7.56" fill="#abbda1"/>
<rect x="528.79" y="268.57" width="18.54" height="7.56" fill="#b3c6a3"/>
<rect x="548.33" y="268.57" width="18.54" height="7.56" fill="#b3c6a3"/>
<rect x="567.87" y="268.57" width="18.54" height="7.56" fill="#b3c6a3"/>
<rect x="587.41" y="268.57" width="18.54" height="7.56" fill="#b3c6a3"/>
<rect x="606.96" y="268.57" width="18.54" height="7.56" fill="#afc1a2"/>
<rect x="489.70" y="277.13" width="18.54" height="7.56" fill="#d2e3a9"/>
<rect x="509.24" y="277.13" width="18.54" height="7.56" fill="#d5e5aa"/>
<rect x="528.79" y="277.13" width="18.54" height="7.56" fill="#d5e5aa"/>
<rect x="548.33" y="277.13" width="18.54" height="7.56" fill="#d5e5aa"/>
<rect x="567.87" y="277.13" width="18.54" height="7.56" fill="#d2e3a9"/>
<rect x="587.41" y="277.13" width="18.54" height="7.56" fill="#d2e3a9"/>
<rect x="606.96" y="277.13" width="18.54" height="7.56" fill="#cfe0a9"/>
<rect x="489.70" y="285.69" width="18.54" height="7.56" fill="#ccdea8"/>
<rect x="509.24" y="285.69" width="18.54" height="7.56" fill="#c6d9a7"/>
<rect x="528.79" y="285.69" width="18.54" height="7.56" fill="#c6d9a7"/>
<rect x="548.33" y="285.69" width="18.54" height="7.56" fill="#ccdea8"/>
<rect x="567.87" y="285.69" width="18.54" height="7.56" fill="#d2e3a9"/>
<rect x="587.41" y="285.69" width="18.54" height="7.56" fill="#d2e3a9"/>
<rect x="606.96" y="285.69" width="18.54" height="7.56" fill="#ccdea8"/>
<rect x="489.70" y="294.25" width="18.54" height="7.56" fill="#b3c6a3"/>
<rect x="509.24" y="294.25" width="18.54" height="7.56" fill="#abbda1"/>
<rect x="528.79" y="294.25" width="18.54" height="7.56" fill="#b3c6a3"/>
<rect x="548.33" y="294.25" width="18.54" height="7.56" fill="#b3c6a3"/>
<rect x="567.87" y="294.25" width="18.54" height="7.56" fill="#b3c6a3"/>
<rect x="587.41" y="294.25" width="18.54" height="7.56" fill="#b3c6a3"/>
<rect x="606.96" y="294.25" width="18.54" height="7.56" fill="#afc1a2"/>
<rect x="489.70" y="302.81" width="18.54" height="7.56" fill="#d2e3a9"/>
<rect x="509.24" y="302.81" width="18.54" height="7.56" fill="#d5e5aa"/>
<rect x="528.79" y="302.81" width="18.54" height="7.56" fill="#d5e5aa"/>
<rect x="548.33" y="302.81" width="18.54" height="7.56" fill="#d5e5aa"/>
<rect x="567.87" y="302.81" width="18.54" height="7.56" fill="#d2e3a9"/>
<rect x="587.41" y="302.81" width="18.54" height="7.56" fill="#d2e3a9"/>
<rect x="606.96" y="302.81" width="18.54" height="7.56" fill="#ccdea8"/>
<rect x="489.70" y="311.37" width="18.54" height="7.56" fill="#ccdea8"/>
<rect x="509.24" y="311.37" width="18.54" height="7.56" fill="#c6d9a7"/>
<rect x="528.79" y="311.37" width="18.54" height="7.56" fill="#c9dba7"/>
<rect x="548.33" y="311.37" width="18.54" height="7.56" fill="#ccdea8"/>
<rect x="567.87" y="311.37" width="18.54" height="7.56" fill="#d2e3a9"/>
<rect x="587.41" y="311.37" width="18.54" height="7.56" fill="#d2e3a9"/>
<rect x="606.96" y="311.37" width="18.54" height="7.56" fill="#ccdea8"/>
<rect x="489.70" y="319.93" width="18.54" height="7.56" fill="#afc1a2"/>
<rect x="509.24" y="319.93" width="18.54" height="7.56" fill="#a7b9a0"/>
<rect x="528.79" y="319.93" width="18.54" height="7.56" fill="#afc1a2"/>
<rect x="548.33" y="319.93" width="18.54" height="7.56" fill="#b3c6a3"/>
<rect x="567.87" y="319.93" width="18.54" height="7.56" fill="#b3c6a3"/>
<rect x="587.41" y="319.93" width="18.54" height="7.56" fill="#b3c6a3"/>
<rect x="606.96" y="319.93" width="18.54" height="7.56" fill="#afc1a2"/>
<rect x="489.70" y="328.49" width="18.54" height="7.56" fill="#6b7897"/>
<rect x="509.24" y="328.49" width="18.54" height="7.56" fill="#7a8a98"/>
<rect x="528.79" y="328.49" width="18.54" height="7.56" fill="#849499"/>
<rect x="548.33" y="328.49" width="18.54" height="7.56" fill="#90a09a"/>
<rect x="567.87" y="328.49" width="18.54" height="7.56" fill="#a2b49f"/>
<rect x="587.41" y="328.49" width="18.54" height="7.56" fill="#a7b9a0"/>
<rect x="606.96" y="328.49" width="18.54" height="7.56" fill="#abbda1"/>
<rect x="489.70" y="337.05" width="18.54" height="7.56" fill="#505893"/>
<rect x="509.24" y="337.05" width="18.54" height="7.56" fill="#647097"/>
<rect x="528.79" y="337.05" width="18.54" height="7.56" fill="#728098"/>
<rect x="548.33" y="337.05" width="18.54" height="7.56" fill="#7e8d98"/>
<rect x="567.87" y="337.05" width="18.54" height="7.56" fill="#99aa9c"/>
<rect x="587.41" y="337.05" width="18.54" height="7.56" fill="#a2b49f"/>
<rect x="606.96" y="337.05" width="18.54" height="7.56" fill="#a7b9a0"/>
<rect x="489.70" y="345.61" width="18.54" height="7.56" fill="#4d477c"/>
<rect x="509.24" y="345.61" width="18.54" height="7.56" fill="#4c4d86"/>
<rect x="528.79" y="345.61" width="18.54" height="7.56" fill="#545c94"/>
<rect x="548.33" y="345.61" width="18.54" height="7.56" fill="#647097"/>
<rect x="567.87" y="345.61" width="18.54" height="7.56" fill="#6d7b97"/>
<rect x="587.41" y="345.61" width="18.54" height="7.56" fill="#778698"/>
<rect x="606.96" y="345.61" width="18.54" height="7.56" fill="#7a8a98"/>
<rect x="489.70" y="354.17" width="18.54" height="7.56" fill="#6b7897"/>
<rect x="509.24" y="354.17" width="18.54" height="7.56" fill="#7a8a98"/>
<rect x="528.79" y="354.17" width="18.54" height="7.56" fill="#849499"/>
<rect x="548.33" y="354.17" width="18.54" height="7.56" fill="#90a09a"/>
<rect x="567.87" y="354.17" width="18.54" height="7.56" fill="#a2b49f"/>
<rect x="587.41" y="354.17" width="18.54" height="7.56" fill="#a7b9a0"/>
<rect x="606.96" y="354.17" width="18.54" height="7.56" fill="#abbda1"/>
<rect x="489.70" y="362.73" width="18.54" height="7.56" fill="#505893"/>
<rect x="509.24" y="362.73" width="18.54" height="7.56" fill="#647097"/>
<rect x="528.79" y="362.73" width="18.54" height="7.56" fill="#728098"/>
<rect x="548.33" y="362.73" width="18.54" height="7.56" fill="#7e8d98"/>
<rect x="567.87" y="362.73" width="18.54" height="7.56" fill="#99aa9c"/>
<rect x="587.41" y="362.73" width="18.54" height="7.56" fill="#a2b49f"/>
<rect x="606.96" y="362.73" width="18.54" height="7.56" fill="#a7b9a0"/>
<rect x="489.70" y="371.29" width="18.54" height="7.56" fill="#4d477c"/>
<rect x="509.24" y="371.29" width="18.54" height="7.56" fill="#4c4d86"/>
<rect x="528.79" y="371.29" width="18.54" height="7.56" fill="#545c94"/>
<rect x="548.33" y="371.29" width="18.54" height="7.56" fill="#647097"/>
<rect x="567.87" y="371.29" width="18.54" height="7.56" fill="#6d7b97"/>
<rect x="587.41" y="371.29" width="18.54" height="7.56" fill="#778698"/>
<rect x="606.96" y="371.29" width="18.54" height="7.56" fill="#7a8a98"/>
<rect x="489.70" y="379.85" width="18.54" height="7.56" fill="#6b7897"/>
<rect x="509.24" y="379.85" width="18.54" height="7.56" fill="#7a8a98"/>
<rect x="528.79" y="379.85" width="18.54" height="7.56" fill="#849499"/>
<rect x="548.33" y="379.85" width="18.54" height="7.56" fill="#90a09a"/>
<rect x="567.87" y="379.85" width="18.54" height="7.56" fill="#a2b49f"/>
<rect x="587.41" y="379.85" width="18.54" height="7.56" fill="#a7b9a0"/>
<rect x="606.96" y="379.85" width="18.54" height="7.56" fill="#abbda1"/>
<rect x="489.70" y="388.41" width="18.54" height="7.56" fill="#505893"/>
<rect x="509.24" y="388.41" width="18.54" height="7.56" fill="#647097"/>
<rect x="528.79" y="388.41" width="18.54" height="7.56" fill="#728098"/>
<rect x="548.33" y="388.41" width="18.54" height="7.56" fill="#7e8d98"/>
<rect x="567.87" y="388.41" width="18.54" height="7.56" fill="#99aa9c"/>
<rect x="587.41" y="388.41" width="18.54" height="7.56" fill="#a2b49f"/>
<rect x="606.96" y="388.41" width="18.54" height="7.56" fill="#a7b9a0"/>
<rect x="489.70" y="396.97" width="18.54" height="7.56" fill="#4d4577"/>
<rect x="509.24" y="396.97" width="18.54" height="7.56" fill="#4c4a81"/>
<rect x="528.79" y="396.97" width="18.54" height="7.56" fill="#545c94"/>
<rect x="548.33" y="396.97" width="18.54" height="7.56" fill="#647097"/>
<rect x="567.87" y="396.97" width="18.54" height="7.56" fill="#6d7b97"/>
<rect x="587.41" y="396.97" width="18.54" height="7.56" fill="#778698"/>
<rect x="606.96" y="396.97" width="18.54" height="7.56" fill="#7a8a98"/>
<rect x="489.70" y="405.53" width="18.54" height="7.56" fill="#697597"/>
<rect x="509.24" y="405.53" width="18.54" height="7.56" fill="#7a8a98"/>
<rect x="528.79" y="405.53" width="18.54" height="7.56" fill="#849499"/>
<rect x="548.33" y="405.53" width="18.54" height="7.56" fill="#4d385d"/>
<rect x="567.87" y="405.53" width="18.54" height="7.56" fill="#849499"/>
<rect x="587.41" y="405.53" width="18.54" height="7.56" fill="#d2e3a9"/>
<rect x="606.96" y="405.53" width="18.54" height="7.56" fill="#cfe0a9"/>
<rect x="489.70" y="414.09" width="18.54" height="7.56" fill="#505893"/>
<rect x="509.24" y="414.09" width="18.54" height="7.56" fill="#647097"/>
<rect x="528.79" y="414.09" width="18.54" height="7.56" fill="#728098"/>
<rect x="548.33" y="414.09" width="18.54" height="7.56" fill="#4b2a40"/>
<rect x="567.87" y="414.09" width="18.54" height="7.56" fill="#849499"/>
<rect x="587.41" y="414.09" width="18.54" height="7.56" fill="#d2e3a9"/>
<rect x="606.96" y="414.09" width="18.54" height="7.56" fill="#ccdea8"/>
<rect x="489.70" y="422.65" width="18.54" height="7.56" fill="#4d477c"/>
<rect x="509.24" y="422.65" width="18.54" height="7.56" fill="#4c4d86"/>
<rect x="528.79" y="422.65" width="18.54" height="7.56" fill="#545c94"/>
<rect x="548.33" y="422.65" width="18.54" height="7.56" fill="#4a2530"/>
<rect x="567.87" y="422.65" width="18.54" height="7.56" fill="#545c94"/>
<rect x="587.41" y="422.65" width="18.54" height="7.56" fill="#b7caa3"/>
<rect x="606.96" y="422.65" width="18.54" height="7.56" fill="#afc1a2"/>
<rect x="489.70" y="431.21" width="18.54" height="7.56" fill="#697597"/>
<rect x="509.24" y="431.21" width="18.54" height="7.56" fill="#7a8a98"/>
<rect x="528.79" y="431.21" width="18.54" height="7.56" fill="#849499"/>
<rect x="548.33" y="431.21" width="18.54" height="7.56" fill="#4d385d"/>
<rect x="567.87" y="431.21" width="18.54" height="7.56" fill="#849499"/>
<rect x="587.41" y="431.21" width="18.54" height="7.56" fill="#d2e3a9"/>
<rect x="606.96" y="431.21" width="18.54" height="7.56" fill="#cfe0a9"/>
<rect x="489.70" y="439.77" width="18.54" height="7.56" fill="#505893"/>
<rect x="509.24" y="439.77" width="18.54" height="7.56" fill="#647097"/>
<rect x="528.79" y="439.77" width="18.54" height="7.56" fill="#728098"/>
<rect x="548.33" y="439.77" width="18.54" height="7.56" fill="#4b2a40"/>
<rect x="567.87" y="439.77" width="18.54" height="7.56" fill="#849499"/>
<rect x="587.41" y="439.77" width="18.54" height="7.56" fill="#d2e3a9"/>
<rect x="606.96" y="439.77" width="18.54" height="7.56" fill="#ccdea8"/>
<rect x="489.70" y="448.33" width="18.54" height="7.56" fill="#4d477c"/>
<rect x="509.24" y="448.33" width="18.54" height="7.56" fill="#4c4d86"/>
<rect x="528.79" y="448.33" width="18.54" height="7.56" fill="#545c94"/>
<rect x="548.33" y="448.33" width="18.54" height="7.56" fill="#4a2530"/>
<rect x="567.87" y="448.33" width="18.54" height="7.56" fill="#545c94"/>
<rect x="587.41" y="448.33" width="18.54" height="7.56" fill="#b7caa3"/>
<rect x="606.96" y="448.33" width="18.54" height="7.56" fill="#afc1a2"/>
<rect x="489.70" y="456.89" width="18.54" height="7.56" fill="#697597"/>
<rect x="509.24" y="456.89" width="18.54" height="7.56" fill="#7a8a98"/>
<rect x="528.79" y="456.89" width="18.54" height="7.56" fill="#849499"/>
<rect x="548.33" y="456.89" width="18.54" height="7.56" fill="#4d385d"/>
<rect x="567.87" y="456.89" width="18.54" height="7.56" fill="#849499"/>
<rect x="587.41" y="456.89" width="18.54" height="7.56" fill="#d2e3a9"/>
<rect x="606.96" y="456.89" width="18.54" height="7.56" fill="#cfe0a9"/>
<rect x="489.70" y="465.45" width="18.54" height="7.56" fill="#505893"/>
<rect x="509.24" y="465.45" width="18.54" height="7.56" fill="#647097"/>
<rect x="528.79" y="465.45" width="18.54" height="7.56" fill="#728098"/>
<rect x="548.33" y="465.45" width="18.54" height="7.56" fill="#4b2a40"/>
<rect x="567.87" y="465.45" width="18.54" height="7.56" fill="#849499"/>
<rect x="587.41" y="465.45" width="18.54" height="7.56" fill="#d2e3a9"/>
<rect x="606.96" y="465.45" width="18.54" height="7.56" fill="#ccdea8"/>
<rect x="489.70" y="474.01" width="18.54" height="7.56" fill="#4d477c"/>
<rect x="509.24" y="474.01" width="18.54" height="7.56" fill="#4c4d86"/>
<rect x="528.79" y="474.01" width="18.54" height="7.56" fill="#545c94"/>
<rect x="548.33" y="474.01" width="18.54" height="7.56" fill="#4a2530"/>
<rect x="567.87" y="474.01" width="18.54" height="7.56" fill="#545c94"/>
<rect x="587.41" y="474.01" width="18.54" height="7.56" fill="#b7caa3"/>
<rect x="606.96" y="474.01" width="18.54" height="7.56" fill="#afc1a2"/>
<line x1="345.5" y1="415.4" x2="483.1" y2="415.4" stroke="#4a4a4a" stroke-width="0.6" opacity="0.8"/>
<line x1="329" y1="249.5" x2="642" y2="249.5" stroke="#3a3a3a" stroke-width="1.0"/>
<line x1="310.2" y1="249.4" x2="329.5" y2="249.4" stroke="#231f20" stroke-width="1.5"/>
<line x1="311.5" y1="327.90" x2="344.5" y2="327.90" stroke="#231f20" stroke-width="1.4"/>
<line x1="311.5" y1="405.60" x2="344.5" y2="405.60" stroke="#231f20" stroke-width="1.4"/>
<line x1="311.5" y1="481.80" x2="344.5" y2="481.80" stroke="#231f20" stroke-width="1.4"/>
<rect x="329.3" y="253.33" width="14.5" height="4.6" rx="2.3" fill="#e0352f"/>
<rect x="329.3" y="261.89" width="14.5" height="4.6" rx="2.3" fill="#46598a"/>
<rect x="329.3" y="270.45" width="14.5" height="4.6" rx="2.3" fill="#f4ae3d"/>
<rect x="329.3" y="279.01" width="14.5" height="4.6" rx="2.3" fill="#4dae62"/>
<rect x="329.3" y="287.57" width="14.5" height="4.6" rx="2.3" fill="#6a5b94"/>
<rect x="329.3" y="296.13" width="14.5" height="4.6" rx="2.3" fill="#9c9694"/>
<rect x="329.3" y="304.69" width="14.5" height="4.6" rx="2.3" fill="#f06a6e"/>
<rect x="329.3" y="313.25" width="14.5" height="4.6" rx="2.3" fill="#6f93c6"/>
<rect x="329.3" y="321.81" width="14.5" height="4.6" rx="2.3" fill="#c0622d"/>
<rect x="329.3" y="330.37" width="14.5" height="4.6" rx="2.3" fill="#e0352f"/>
<rect x="329.3" y="338.93" width="14.5" height="4.6" rx="2.3" fill="#46598a"/>
<rect x="329.3" y="347.49" width="14.5" height="4.6" rx="2.3" fill="#f4ae3d"/>
<rect x="329.3" y="356.05" width="14.5" height="4.6" rx="2.3" fill="#4dae62"/>
<rect x="329.3" y="364.61" width="14.5" height="4.6" rx="2.3" fill="#6a5b94"/>
<rect x="329.3" y="373.17" width="14.5" height="4.6" rx="2.3" fill="#9c9694"/>
<rect x="329.3" y="381.73" width="14.5" height="4.6" rx="2.3" fill="#f06a6e"/>
<rect x="329.3" y="390.29" width="14.5" height="4.6" rx="2.3" fill="#6f93c6"/>
<rect x="329.3" y="398.85" width="14.5" height="4.6" rx="2.3" fill="#c0622d"/>
<rect x="329.3" y="407.41" width="14.5" height="4.6" rx="2.3" fill="#e0352f"/>
<rect x="329.3" y="415.97" width="14.5" height="4.6" rx="2.3" fill="#46598a"/>
<rect x="329.3" y="424.53" width="14.5" height="4.6" rx="2.3" fill="#f4ae3d"/>
<rect x="329.3" y="433.09" width="14.5" height="4.6" rx="2.3" fill="#4dae62"/>
<rect x="329.3" y="441.65" width="14.5" height="4.6" rx="2.3" fill="#6a5b94"/>
<rect x="329.3" y="450.21" width="14.5" height="4.6" rx="2.3" fill="#9c9694"/>
<rect x="329.3" y="458.77" width="14.5" height="4.6" rx="2.3" fill="#f06a6e"/>
<rect x="329.3" y="467.33" width="14.5" height="4.6" rx="2.3" fill="#6f93c6"/>
<rect x="329.3" y="475.89" width="14.5" height="4.6" rx="2.3" fill="#c0622d"/>
<text x="327.00" y="296.80" font-size="13" text-anchor="end" font-weight="bold" >BN</text>
<text x="327.00" y="372.00" font-size="13" text-anchor="end" font-weight="bold" >NN</text>
<text x="327.90" y="442.90" font-size="13" text-anchor="end" font-weight="bold" >PR</text>
<defs><linearGradient id="cb" x1="0" y1="0" x2="0" y2="1"><stop offset="0.000" stop-color="#d5e5aa"/><stop offset="0.063" stop-color="#c2d6a6"/><stop offset="0.127" stop-color="#a8baa0"/><stop offset="0.192" stop-color="#8a9a99"/><stop offset="0.257" stop-color="#758498"/><stop offset="0.322" stop-color="#667297"/><stop offset="0.387" stop-color="#575f95"/><stop offset="0.430" stop-color="#4e5692"/><stop offset="0.473" stop-color="#4c4e88"/><stop offset="0.538" stop-color="#4d4578"/><stop offset="0.603" stop-color="#4d3b64"/><stop offset="0.668" stop-color="#4d3354"/><stop offset="0.733" stop-color="#4c2d46"/><stop offset="0.820" stop-color="#4a283a"/><stop offset="0.906" stop-color="#4a242c"/><stop offset="1.000" stop-color="#461e1e"/></linearGradient></defs>
<rect x="632.1" y="250.0" width="7.8" height="232.0" fill="url(#cb)"/>
<text x="644.30" y="261.00" font-size="13" text-anchor="start" font-weight="bold" >0.00%</text>
<text x="644.20" y="386.20" font-size="13" text-anchor="start" font-weight="bold" >-2.00%</text>
<text x="644.20" y="481.60" font-size="13" text-anchor="start" font-weight="bold" >-3.50%</text>
<text x="346.00" y="246.90" font-size="13" text-anchor="start" font-weight="bold" >Developed countries</text>
<text x="490.00" y="247.20" font-size="13" text-anchor="start" font-weight="bold" >Developing countries</text>
<text x="344.40" y="496.20" font-size="13" text-anchor="start" font-weight="bold" >2024</text>
<text x="483.40" y="496.20" font-size="13" text-anchor="end" font-weight="bold" >2030</text>
<text x="488.20" y="496.20" font-size="13" text-anchor="start" font-weight="bold" >2024</text>
<text x="628.80" y="496.20" font-size="13" text-anchor="end" font-weight="bold" >2030</text>
</svg></body></html>
